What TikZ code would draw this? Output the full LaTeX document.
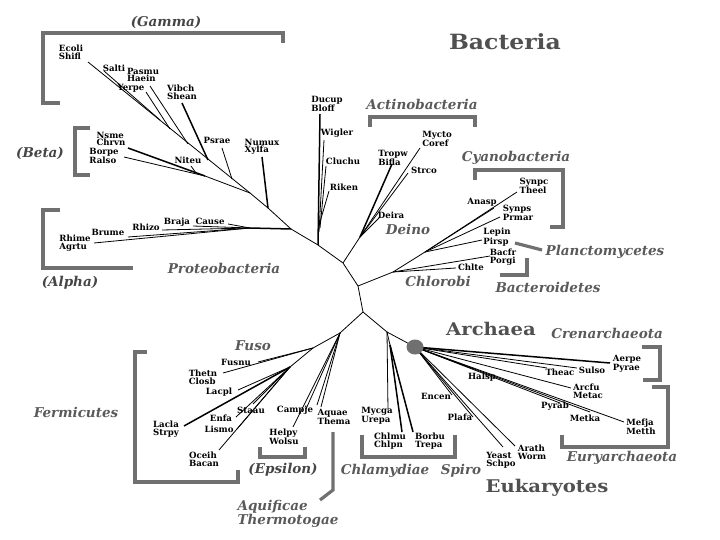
\documentclass[tikz,border=0pt]{standalone}
\usepackage{fontspec}
\usetikzlibrary{shapes.geometric}
\setmainfont{DejaVu Serif}
\newfontfamily\wideserif[FakeStretch=1.12]{DejaVu Serif}
\definecolor{grpgray}{HTML}{5A5A5A}
\definecolor{pgray}{HTML}{454545}
\definecolor{brgray}{HTML}{707070}
\definecolor{biggray}{HTML}{505050}
\tikzset{
  lbl/.style={font=\fontsize{8.6}{7.6}\selectfont\bfseries, inner sep=0pt, align=left},
  grp/.style={font=\fontsize{13.5}{12}\selectfont\bfseries\itshape, text=grpgray, inner sep=0pt, align=left},
  pgrp/.style={grp, text=pgray},
  big/.style={font=\wideserif\fontsize{17.5}{17}\selectfont\bfseries, text=biggray, inner sep=0pt},
  bigger/.style={big, font=\wideserif\fontsize{21}{21}\selectfont\bfseries},
  brk/.style={draw=brgray, line width=3.2pt, line join=miter},
  tr/.style={draw=black, line width=0.8pt},
  trk/.style={draw=black, line width=1.5pt},
}
\begin{document}
\begin{tikzpicture}[x=1pt,y=-1pt]
\useasboundingbox (0,0) rectangle (720,540);
% ---------- junctions ----------
\coordinate (r1) at (318,245);
\coordinate (p0) at (291,229);
\coordinate (p1) at (268,208);
\coordinate (p2) at (250,193);
\coordinate (b1) at (205,176);
\coordinate (al0) at (250,228);
\coordinate (d0) at (343,263);
\coordinate (ac0) at (360,237);
\coordinate (c0) at (358,286);
\coordinate (cy0) at (393,272);
\coordinate (cy1) at (425,252);
\coordinate (a0) at (363,312);
\coordinate (f0) at (340,333);
\coordinate (f1) at (313,348);
\coordinate (f2) at (290,367);
\coordinate (ar0) at (387,332);
\coordinate (ch0) at (390,345);
% ---------- tips ----------
\coordinate (tEcoli) at (88,62);
\coordinate (tSalti) at (104,71);
\coordinate (tPasmu) at (150,86);
\coordinate (tYerpe) at (146,92);
\coordinate (tVibch) at (182,103);
\coordinate (tPsrae) at (222,148);
\coordinate (tNumux) at (262,157);
\coordinate (tNsme) at (128,148);
\coordinate (tBorpe) at (124,157);
\coordinate (tNiteu) at (191,166);
\coordinate (tRhime) at (94,243);
\coordinate (tBrume) at (128,237);
\coordinate (tRhizo) at (162,230);
\coordinate (tBraja) at (193,226);
\coordinate (tCause) at (228,224);
\coordinate (tDucup) at (320,114);
\coordinate (tWigler) at (324,140);
\coordinate (tCluchu) at (326,166);
\coordinate (tRiken) at (329,191);
\coordinate (tMycto) at (420,148);
\coordinate (tStrco) at (408,173);
\coordinate (tTropw) at (392,164);
\coordinate (tDeira) at (379,218);
\coordinate (tSynpc) at (517,192);
\coordinate (tSynps) at (500,217);
\coordinate (tAnasp) at (494,208);
\coordinate (tLepin) at (482,240);
\coordinate (tBacfr) at (490,256);
\coordinate (tChlte) at (456,268);
\coordinate (tFusnu) at (258,362);
\coordinate (tThetn) at (223,373);
\coordinate (tLacpl) at (238,390);
\coordinate (tLacla) at (184,426);
\coordinate (tStaau) at (253,404);
\coordinate (tEnfa) at (236,417);
\coordinate (tLismo) at (237,429);
\coordinate (tOceih) at (219,450);
\coordinate (tCampje) at (306,409);
\coordinate (tHelpy) at (293,427);
\coordinate (tAquae) at (321,407);
\coordinate (tMycga) at (388,410);
\coordinate (tChlmu) at (402,432);
\coordinate (tBorbu) at (413,432);
\coordinate (tAerpe) at (610,363);
\coordinate (tSulso) at (577,368);
\coordinate (tTheac) at (547,368);
\coordinate (tHalsp) at (474,369);
\coordinate (tArcfu) at (571,388);
\coordinate (tPyrab) at (560,403);
\coordinate (tMetka) at (590,412);
\coordinate (tMefja) at (624,422);
\coordinate (tEncen) at (452,395);
\coordinate (tPlafa) at (473,417);
\coordinate (tYeast) at (503,447);
\coordinate (tArath) at (515,446);
% ---------- brackets ----------
\draw[brk] (60,103) -- (43,103) -- (43,33) -- (283,33) -- (283,43);
\draw[brk] (90,128) -- (75,128) -- (75,175) -- (90,175);
\draw[brk] (60,210) -- (43,210) -- (43,268) -- (133,268);
\draw[brk] (370,127) -- (370,117) -- (475,117) -- (475,127);
\draw[brk] (475,180) -- (475,170) -- (563,170) -- (563,227) -- (550,227);
\draw[brk] (515,243) -- (542,250);
\draw[brk] (527,258) -- (527,275) -- (500,275);
\draw[brk] (147,352) -- (135,352) -- (135,482) -- (238,482) -- (238,470);
\draw[brk] (260,447) -- (260,457) -- (305,457) -- (305,447);
\draw[brk] (333,432) -- (333,490) -- (320,500);
\draw[brk] (362,435) -- (362,457) -- (455,457) -- (455,435);
\draw[brk] (642,347) -- (660,347) -- (660,380) -- (643,380);
\draw[brk] (652,387) -- (668,387) -- (668,447) -- (562,447) -- (562,435);
% ---------- backbone ----------
\draw[tr] (p0) -- (r1) -- (d0) -- (c0) -- (a0) -- (f0);
\draw[tr] (a0) -- (ar0);
\draw[tr] (ar0) -- (415,347);
\draw[trk] (r1) -- (tDucup);
\draw[tr] (319,232) -- (tWigler);
\draw[tr] (320,228) -- (tCluchu);
\draw[tr] (320,222) -- (tRiken);
% proteobacteria
\draw[tr] (p0) -- (p1) -- (p2);
\draw[trk] (p1) -- (tNumux);
\draw[trk] (p0) -- (al0);
\draw[tr] (al0) -- (tRhime);
\draw[tr] (al0) -- (tBrume);
\draw[tr] (al0) -- (tRhizo);
\draw[tr] (al0) -- (tBraja);
\draw[tr] (al0) -- (tCause);
\draw[tr] (p2) -- (tEcoli);
\draw[tr] (160,120) -- (tSalti);
\draw[tr] (188,144) -- (tPasmu);
\draw[tr] (170,129) -- (tYerpe);
\draw[trk] (208,160) -- (tVibch);
\draw[tr] (232,179) -- (tPsrae);
\draw[tr] (p2) -- (b1);
\draw[trk] (b1) -- (tNsme);
\draw[tr] (b1) -- (tBorpe);
\draw[tr] (196,173) -- (tNiteu);
% deino / actino
\draw[tr] (d0) -- (ac0);
\draw[tr] (ac0) -- (tMycto);
\draw[tr] (ac0) -- (tStrco);
\draw[trk] (ac0) -- (tTropw);
\draw[tr] (ac0) -- (tDeira);
% cyano etc
\draw[tr] (c0) -- (cy0) -- (cy1);
\draw[tr] (cy0) -- (tBacfr);
\draw[tr] (cy0) -- (tChlte);
\draw[tr] (cy1) -- (tLepin);
\draw[tr] (cy1) -- (tSynpc);
\draw[tr] (cy1) -- (tSynps);
\draw[tr] (cy1) -- (tAnasp);
% firmicutes etc
\draw[tr] (f0) -- (f1) -- (f2);
\draw[tr] (f1) -- (tFusnu);
\draw[tr] (f1) -- (tThetn);
\draw[tr] (f2) -- (tLacpl);
\draw[trk] (f2) -- (tLacla);
\draw[tr] (f2) -- (tStaau);
\draw[tr] (f2) -- (tEnfa);
\draw[tr] (f2) -- (tLismo);
\draw[tr] (f2) -- (tOceih);
\draw[tr] (f0) -- (tCampje);
\draw[tr] (f0) -- (tHelpy);
\draw[tr] (f0) -- (tAquae);
\draw[tr] (f0) -- (317,405);
% chlamydiae / spiro
\draw[tr] (ar0) -- (tMycga);
\draw[tr] (ar0) -- (ch0);
\draw[trk] (ch0) -- (tChlmu);
\draw[trk] (ch0) -- (tBorbu);
% archaea / eukaryotes
\coordinate (dc) at (415,347);
\draw[trk] (dc) -- (tAerpe);
\draw[tr] (dc) -- (tSulso);
\draw[tr] (dc) -- (tTheac);
\draw[tr] (dc) -- (tHalsp);
\draw[tr] (dc) -- (tArcfu);
\draw[tr] (dc) -- (tPyrab);
\draw[tr] (dc) -- (tMetka);
\draw[tr] (dc) -- (tMefja);
\draw[tr] (dc) -- (tEncen);
\draw[tr] (dc) -- (tPlafa);
\draw[tr] (dc) -- (tYeast);
\draw[tr] (dc) -- (tArath);
\node[ellipse, fill=brgray, minimum width=17pt, minimum height=15pt, inner sep=0pt] (dot) at (dc) {};
% ---------- leaf labels ----------
\node[lbl] (lEcoli) at (71,52) {Ecoli\\Shifl};
\node[lbl] (lSalti) at (114,68) {Salti};
\node[lbl] (lPasmu) at (143,75) {Pasmu\\Haein};
\node[lbl] (lYerpe) at (131,88) {Yerpe};
\node[lbl] (lVibch) at (182,92) {Vibch\\Shean};
\node[lbl] (lPsrae) at (217,140) {Psrae};
\node[lbl] (lNumux) at (262,147) {Numux\\Xylfa};
\node[lbl] (lNsme) at (111,139) {Nsme\\Chrvn};
\node[lbl] (lBorpe) at (104,156) {Borpe\\Ralso};
\node[lbl] (lNiteu) at (188,160) {Niteu};
\node[lbl] (lRhime) at (75,243) {Rhime\\Agrtu};
\node[lbl] (lBrume) at (108,232) {Brume};
\node[lbl] (lRhizo) at (146,227) {Rhizo};
\node[lbl] (lBraja) at (177,222) {Braja};
\node[lbl] (lCause) at (210,221) {Cause};
\node[lbl] (lDucup) at (327,104) {Ducup\\Bloff};
\node[lbl] (lWigler) at (337,133) {Wigler};
\node[lbl] (lCluchu) at (343,161) {Cluchu};
\node[lbl] (lRiken) at (344,187) {Riken};
\node[lbl] (lTropw) at (393,158) {Tropw\\Bifla};
\node[lbl] (lMycto) at (437,139) {Mycto\\Coref};
\node[lbl] (lStrco) at (424,170) {Strco};
\node[lbl] (lDeira) at (391,215) {Deira};
\node[lbl] (lSynpc) at (534,186) {Synpc\\Theel};
\node[lbl] (lSynps) at (518,213) {Synps\\Prmar};
\node[lbl] (lAnasp) at (482,202) {Anasp};
\node[lbl] (lLepin) at (497,237) {Lepin\\Pirsp};
\node[lbl] (lBacfr) at (503,257) {Bacfr\\Porgi};
\node[lbl] (lChlte) at (471,267) {Chlte};
\node[lbl] (lFusnu) at (236,362) {Fusnu};
\node[lbl] (lThetn) at (203,377) {Thetn\\Closb};
\node[lbl] (lLacpl) at (219,392) {Lacpl};
\node[lbl] (lLacla) at (166,429) {Lacla\\Strpy};
\node[lbl] (lEnfa) at (221,418) {Enfa};
\node[lbl] (lStaau) at (251,410) {Staau};
\node[lbl] (lLismo) at (219,429) {Lismo};
\node[lbl] (lOceih) at (204,459) {Oceih\\Bacan};
\node[lbl] (lCampje) at (295,410) {Campje};
\node[lbl] (lHelpy) at (284,437) {Helpy\\Wolsu};
\node[lbl] (lAquae) at (334,417) {Aquae\\Thema};
\node[lbl] (lMycga) at (377,416) {Mycga\\Urepa};
\node[lbl] (lChlmu) at (390,441) {Chlmu\\Chlpn};
\node[lbl] (lBorbu) at (430,441) {Borbu\\Trepa};
\node[lbl] (lAerpe) at (627,364) {Aerpe\\Pyrae};
\node[lbl] (lTheac) at (560,372) {Theac};
\node[lbl] (lSulso) at (592,370) {Sulso};
\node[lbl] (lHalsp) at (482,377) {Halsp};
\node[lbl] (lArcfu) at (588,391) {Arcfu\\Metac};
\node[lbl] (lPyrab) at (555,406) {Pyrab};
\node[lbl] (lMetka) at (585,418) {Metka};
\node[lbl] (lMefja) at (641,427) {Mefja\\Metth};
\node[lbl] (lEncen) at (436,396) {Encen};
\node[lbl] (lPlafa) at (460,417) {Plafa};
\node[lbl] (lYeast) at (501,460) {Yeast\\Schpo};
\node[lbl] (lArath) at (532,452) {Arath\\Worm};
% ---------- group labels ----------
\node[pgrp] (gGamma) at (166,22) {(Gamma)};
\node[pgrp] (gBeta) at (40,153) {(Beta)};
\node[pgrp] (gAlpha) at (70,283) {(Alpha)};
\node[grp] (gProteo) at (224,268) {Proteobacteria};
\node[grp] (gActino) at (422,104) {Actinobacteria};
\node[grp] (gCyano) at (516,158) {Cyanobacteria};
\node[grp] (gDeino) at (408,229) {Deino};
\node[grp] (gPlanct) at (605,252) {Planctomycetes};
\node[grp] (gChlorobi) at (438,281) {Chlorobi};
\node[grp] (gBactero) at (548,287) {Bacteroidetes};
\node[grp] (gFuso) at (253,346) {Fuso};
\node[grp] (gFermi) at (76,412) {Fermicutes};
\node[pgrp] (gEpsilon) at (283,470) {(Epsilon)};
\node[grp] (gAquif) at (288,514) {Aquificae\\Thermotogae};
\node[grp] (gChlamy) at (385,471) {Chlamydiae};
\node[grp] (gSpiro) at (461,471) {Spiro};
\node[grp] (gCren) at (607,333) {Crenarchaeota};
\node[grp] (gEury) at (622,458) {Euryarchaeota};
% ---------- big labels ----------
\node[bigger] (bBact) at (505,42) {Bacteria};
\node[big] (bArch) at (491,329) {Archaea};
\node[big] (bEuk) at (547,488) {Eukaryotes};
\end{tikzpicture}
\end{document}
